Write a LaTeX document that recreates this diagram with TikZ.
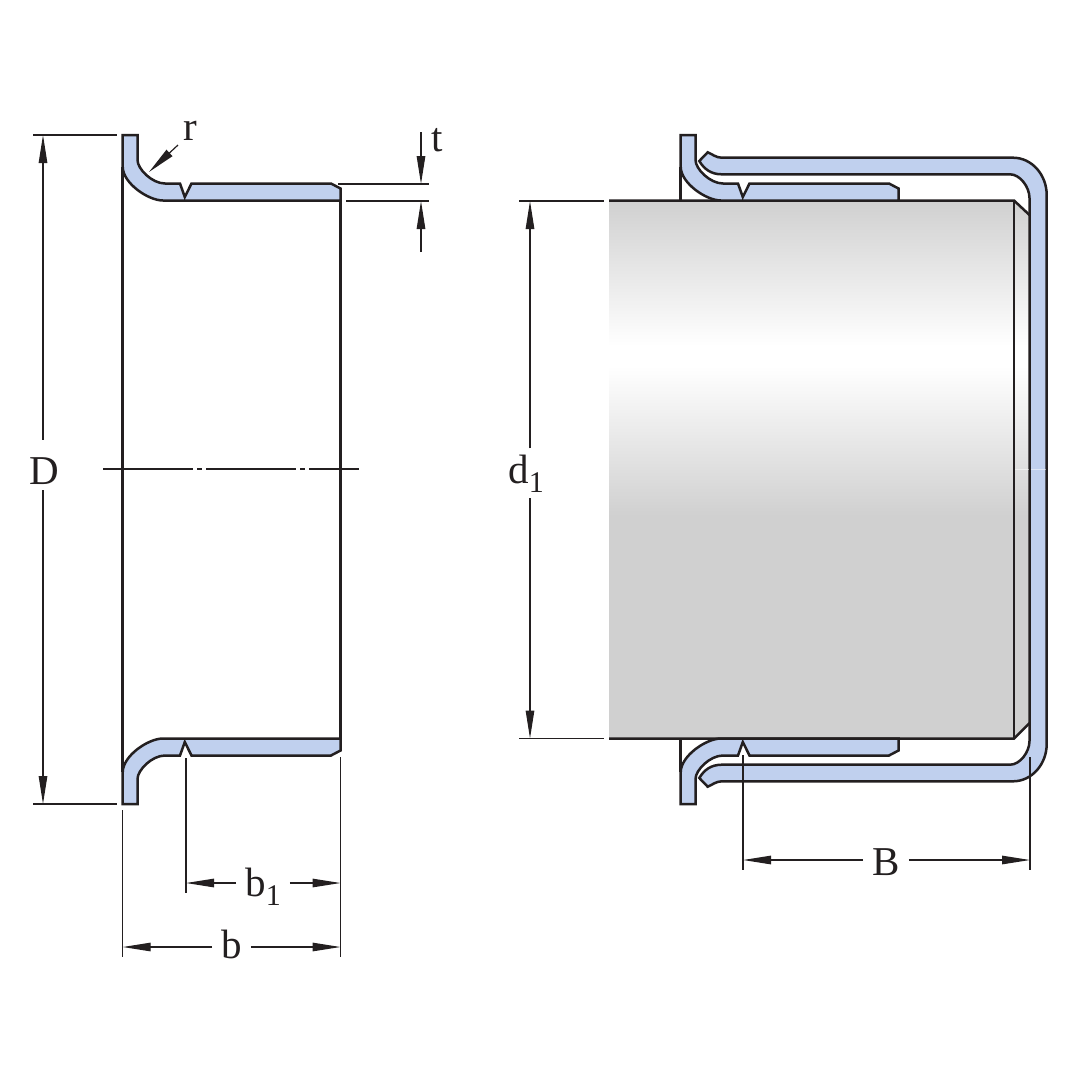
\documentclass[tikz,border=0pt]{standalone}
\usepackage{fontspec}
\setmainfont{Liberation Serif}
\usetikzlibrary{arrows.meta}

\definecolor{inkdark}{HTML}{231F20}
\definecolor{shellblue}{HTML}{C0D0EE}
\definecolor{shaftgray}{HTML}{D0D0D0}

% Vertical shading of the shaft (path spans 25bp to 75bp)
\pgfdeclareverticalshading{shaftshade}{100bp}{color(0bp)=(shaftgray); color(25bp)=(shaftgray); color(45.7bp)=(shaftgray); color(59.6bp)=(white); color(61.5bp)=(white); color(75bp)=(shaftgray); color(100bp)=(shaftgray)}

% Half section of the bushing, upper side
\newcommand{\bushpath}{(122.7,135) -- (137.5,135) -- (137.5,160) .. controls (137.5,169) and (152,183.5) .. (165,183.5) -- (180,183.5) -- (184.8,197) -- (191.5,183.5) -- (331,183.5) -- (340.5,188.5) -- (340.5,200.5) -- (163,200.5) .. controls (148,200.5) and (122.7,183) .. (122.7,166.7) -- cycle}
\newcommand{\lowidx}[1]{\raisebox{-9pt}{\fontsize{30}{30}\selectfont #1}}

\tikzset{
    partline/.style={draw=inkdark, line width=2.5pt, line join=miter},
    shellpart/.style={partline, fill=shellblue},
    thinline/.style={draw=inkdark, line width=1.2pt},
    dimarrow/.style={thinline, -{Triangle[length=28pt, width=8.5pt]}},
    dimlabel/.style={anchor=base, inner xsep=9pt, inner ysep=6pt, text=inkdark, font=\fontsize{41}{41}\selectfont},
}

\begin{document}
\begin{tikzpicture}[x=1pt, y=-1pt]
        \useasboundingbox (0,0) rectangle (1080,1080);

        % Shaft with its shaded cylinder and end chamfer
        \shade[shading=shaftshade] (609,200.5) rectangle (1014,738.5);
        \shade[shading=shaftshade] (1014,200.5) -- (1029.5,215) -- (1029.5,723) -- (1014,738.5) -- cycle;
        \draw [partline] (609,200.5) -- (1014,200.5) -- (1029.5,215);
        \draw [partline] (609,738.5) -- (1014,738.5) -- (1029.5,723);
        \draw [partline] (1014,200.5) -- (1014,738.5);

        % Bushing sections, both views
        \draw [partline] (122.7,166.7) -- (122.7,772.3);
        \draw [partline] (340.5,188.5) -- (340.5,750.5);
        \draw [partline] (680.7,166.7) -- (680.7,200.5);
        \draw [partline] (680.7,738.5) -- (680.7,772.3);
        \foreach \dx in {0,558} {
            \draw [shellpart, xshift=\dx] \bushpath;
            \draw [shellpart, cm={1,0,0,-1,(\dx,939)}] \bushpath;
        }

        % Outer cover
        \draw [shellpart] (699.3,161) -- (707.7,152.3) .. controls (712,154) and (716,157.7) .. (721.7,157.7)
            -- (1013,157.7) .. controls (1032,157.7) and (1046.7,175) .. (1046.7,195)
            -- (1046.7,744) .. controls (1046.7,764) and (1032,781.3) .. (1013,781.3)
            -- (721.7,781.3) .. controls (716,781.3) and (712,785) .. (707.7,786.7) -- (699.3,778)
            .. controls (704,770) and (711,764.7) .. (721.7,764.7)
            -- (1010,764.7) .. controls (1020,764.7) and (1029.5,752) .. (1029.5,741)
            -- (1029.5,198) .. controls (1029.5,187) and (1020,174.3) .. (1010,174.3)
            -- (721.7,174.3) .. controls (711,174.3) and (704,169) .. (699.3,161) -- cycle;
        \draw [white, opacity=0.5, line width=0.8pt] (1015,469) -- (1028.5,469);
        \draw [white, opacity=0.5, line width=0.8pt] (1030.5,469) -- (1045.7,469);

        % Center line
        \draw [thinline, dash pattern=on 90pt off 4pt on 5pt off 4pt on 90pt off 4pt on 5pt off 4pt on 50pt] (103,469) -- (360,469);

        % Extension lines
        \draw [thinline] (33,135) -- (117,135);
        \draw [thinline] (33,804) -- (117,804);
        \draw [thinline] (338,184) -- (429,184);
        \draw [thinline] (346,201) -- (429,201);
        \draw [thinline] (519,201) -- (604,201);
        \draw [thinline] (519,738.5) -- (604,738.5);
        \draw [thinline] (122.7,810) -- (122.7,957);
        \draw [thinline] (186,758) -- (186,893);
        \draw [thinline] (340.5,757) -- (340.5,957);
        \draw [thinline] (743,755) -- (743,870);
        \draw [thinline] (1030,757) -- (1030,870);

        % Labels
        \node (lblD) [dimlabel] at (44,484) {D};
        \node (lbldi) [dimlabel] at (526,483) {d\lowidx{1}};
        \node (lblbi) [dimlabel] at (263,896) {b\lowidx{1}};
        \node (lblb) [dimlabel] at (231.5,958) {b};
        \node (lblB) [dimlabel] at (886,875) {B};
        \node (lblr) [dimlabel] at (190,140) {r};
        \node (lblt) [dimlabel] at (437.5,151) {t};

        % Dimension arrow ends
        \coordinate (Dtop) at (43,135);
        \coordinate (Dbot) at (43,804);
        \coordinate (ditop) at (530,201);
        \coordinate (dibot) at (530,738.5);
        \coordinate (bileft) at (186,883);
        \coordinate (biright) at (340.5,883);
        \coordinate (bleft) at (122.7,947);
        \coordinate (bright) at (340.5,947);
        \coordinate (Bleft) at (743,860);
        \coordinate (Bright) at (1030,860);
        \coordinate (rtail) at (178,145);
        \coordinate (rtip) at (149,172);
        \coordinate (ttail) at (421,132);
        \coordinate (ttip) at (421,184);
        \coordinate (utail) at (421,252);
        \coordinate (utip) at (421,201);

        % Dimension arrows
        \draw [dimarrow, shorten <=11pt] (Dtop |- lblD.north) -- (Dtop);
        \draw [dimarrow] (Dbot |- lblD.south) -- (Dbot);
        \draw [dimarrow] (ditop |- lbldi.north) -- (ditop);
        \draw [dimarrow] (dibot |- lbldi.south) -- (dibot);
        \draw [dimarrow] (lblbi.west |- bileft) -- (bileft);
        \draw [dimarrow] (lblbi.east |- biright) -- (biright);
        \draw [dimarrow] (lblb.west |- bleft) -- (bleft);
        \draw [dimarrow] (lblb.east |- bright) -- (bright);
        \draw [dimarrow] (lblB.west |- Bleft) -- (Bleft);
        \draw [dimarrow] (lblB.east |- Bright) -- (Bright);
        \draw [dimarrow] (rtail) -- (rtip);
        \draw [dimarrow] (ttail) -- (ttip);
        \draw [dimarrow] (utail) -- (utip);
\end{tikzpicture}
\end{document}
